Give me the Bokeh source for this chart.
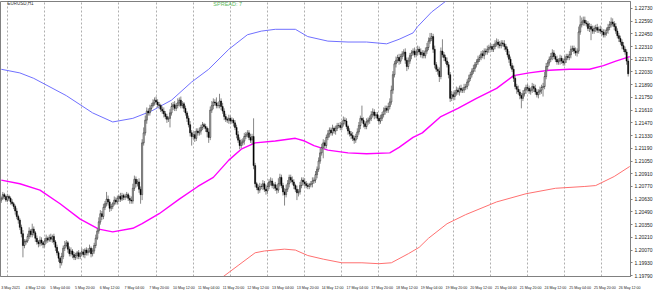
from bokeh.plotting import figure
from bokeh.models import Range1d, FixedTicker, PrintfTickFormatter, ColumnDataSource, Label
from bokeh.embed import file_html
from bokeh.resources import INLINE

# ---- data (bar 0 = 3 May 2021 20:00) ----
first_open = 1.2062
closes = [
    1.2064, 1.2068, 1.2066, 1.2062, 1.2066, 1.2064, 1.2060, 1.2058,
    1.2055, 1.2050, 1.2044, 1.2040, 1.2032, 1.2025, 1.2012, 1.2016,
    1.2017, 1.2022, 1.2028, 1.2024, 1.2030, 1.2026, 1.2020, 1.2016,
    1.2014, 1.2018, 1.2015, 1.2013, 1.2017, 1.2020, 1.2018, 1.2021,
    1.2019, 1.2022, 1.2016, 1.2010, 1.2004, 1.1998, 1.1993, 1.2000,
    1.2009, 1.2012, 1.2015, 1.2008, 1.2003, 1.2006, 1.2002, 1.1999,
    1.2001, 1.2004, 1.2000, 1.2003, 1.2005, 1.2002, 1.2007, 1.2004,
    1.2006, 1.2009, 1.2003, 1.2006, 1.2012, 1.2020, 1.2028, 1.2038,
    1.2047, 1.2044, 1.2054, 1.2058, 1.2063, 1.2060, 1.2053, 1.2055,
    1.2058, 1.2062, 1.2060, 1.2064, 1.2066, 1.2063, 1.2067, 1.2065,
    1.2066, 1.2068, 1.2064, 1.2062, 1.2061, 1.2075, 1.2085, 1.2080,
    1.2082, 1.2074, 1.2068, 1.2125, 1.2136, 1.2150, 1.2160, 1.2158,
    1.2163, 1.2166, 1.2169, 1.2172, 1.2170, 1.2167, 1.2166, 1.2162,
    1.2160, 1.2157, 1.2154, 1.2151, 1.2152, 1.2158, 1.2165, 1.2167,
    1.2163, 1.2166, 1.2169, 1.2172, 1.2166, 1.2168, 1.2163, 1.2158,
    1.2152, 1.2145, 1.2136, 1.2132, 1.2134, 1.2130, 1.2138, 1.2136,
    1.2138, 1.2142, 1.2145, 1.2143, 1.2141, 1.2137, 1.2131, 1.2161,
    1.2166, 1.2170, 1.2169, 1.2166, 1.2166, 1.2171, 1.2165, 1.2160,
    1.2154, 1.2151, 1.2150, 1.2152, 1.2149, 1.2150, 1.2147, 1.2142,
    1.2134, 1.2128, 1.2122, 1.2125, 1.2127, 1.2132, 1.2134, 1.2136,
    1.2131, 1.2128, 1.2132, 1.2100, 1.2080, 1.2076, 1.2073, 1.2077,
    1.2077, 1.2080, 1.2074, 1.2072, 1.2077, 1.2082, 1.2083, 1.2078,
    1.2079, 1.2075, 1.2073, 1.2080, 1.2087, 1.2078, 1.2071, 1.2068,
    1.2074, 1.2080, 1.2087, 1.2084, 1.2082, 1.2078, 1.2074, 1.2070,
    1.2071, 1.2078, 1.2084, 1.2082, 1.2080, 1.2078, 1.2077, 1.2079,
    1.2080, 1.2083, 1.2084, 1.2090, 1.2096, 1.2105, 1.2114, 1.2120,
    1.2125, 1.2122, 1.2131, 1.2135, 1.2139, 1.2136, 1.2141, 1.2138,
    1.2141, 1.2144, 1.2144, 1.2142, 1.2146, 1.2150, 1.2149, 1.2143,
    1.2138, 1.2135, 1.2133, 1.2130, 1.2128, 1.2132, 1.2137, 1.2144,
    1.2152, 1.2150, 1.2146, 1.2143, 1.2148, 1.2150, 1.2152, 1.2156,
    1.2159, 1.2155, 1.2156, 1.2152, 1.2149, 1.2152, 1.2156, 1.2160,
    1.2163, 1.2161, 1.2165, 1.2170, 1.2183, 1.2200, 1.2212, 1.2216,
    1.2219, 1.2215, 1.2220, 1.2223, 1.2225, 1.2216, 1.2209, 1.2215,
    1.2221, 1.2224, 1.2226, 1.2222, 1.2225, 1.2228, 1.2225, 1.2222,
    1.2224, 1.2221, 1.2226, 1.2230, 1.2237, 1.2240, 1.2242, 1.2228,
    1.2211, 1.2206, 1.2204, 1.2198, 1.2226, 1.2222, 1.2219, 1.2215,
    1.2211, 1.2200, 1.2174, 1.2178, 1.2176, 1.2180, 1.2183, 1.2181,
    1.2185, 1.2183, 1.2183, 1.2186, 1.2187, 1.2192, 1.2196, 1.2200,
    1.2204, 1.2207, 1.2211, 1.2214, 1.2217, 1.2219, 1.2223, 1.2221,
    1.2226, 1.2225, 1.2228, 1.2230, 1.2231, 1.2228, 1.2231, 1.2234,
    1.2236, 1.2233, 1.2232, 1.2235, 1.2234, 1.2231, 1.2228, 1.2222,
    1.2217, 1.2210, 1.2206, 1.2196, 1.2187, 1.2184, 1.2181, 1.2177,
    1.2174, 1.2179, 1.2183, 1.2186, 1.2185, 1.2182, 1.2183, 1.2187,
    1.2185, 1.2181, 1.2178, 1.2181, 1.2183, 1.2186, 1.2187, 1.2198,
    1.2209, 1.2213, 1.2217, 1.2220, 1.2224, 1.2220, 1.2217, 1.2214,
    1.2215, 1.2218, 1.2215, 1.2213, 1.2217, 1.2220, 1.2219, 1.2222,
    1.2228, 1.2229, 1.2226, 1.2224, 1.2226, 1.2247, 1.2255, 1.2258,
    1.2260, 1.2257, 1.2256, 1.2251, 1.2253, 1.2250, 1.2248, 1.2251,
    1.2252, 1.2249, 1.2250, 1.2248, 1.2247, 1.2244, 1.2246, 1.2249,
    1.2252, 1.2255, 1.2258, 1.2256, 1.2253, 1.2248, 1.2243, 1.2240,
    1.2236, 1.2232, 1.2228, 1.2225, 1.2215, 1.2201,
]
# wick lengths above / below the candle body, in pips
upper_wick = [
    2, 3, 2, 2, 3, 2, 2, 3, 2, 2,  3, 2, 2, 3, 4, 3, 2, 3, 4, 2,
    6, 3, 2, 3, 2, 4, 3, 2, 3, 4,  2, 3, 4, 2, 3, 2, 3, 2, 2, 4,
    3, 5, 3, 2, 3, 4, 2, 3, 3, 2,  3, 2, 4, 3, 2, 3, 3, 4, 2, 3,
    3, 4, 3, 5, 4, 3, 4, 3, 8, 4,  3, 3, 2, 4, 3, 3, 2, 4, 3, 2,
    3, 3, 2, 3, 4, 5, 4, 3, 3, 4,  3, 4, 6, 5, 4, 3, 4, 3, 4, 3,
    4, 3, 3, 2, 3, 4, 3, 3, 2, 4,  4, 3, 4, 3, 5, 3, 4, 3, 2, 3,
    2, 3, 4, 3, 3, 4, 3, 3, 4, 3,  3, 2, 3, 2, 4, 4, 5, 4, 3, 6,
    4, 8, 3, 4, 3, 3, 2, 4, 3, 3,  2, 3, 3, 4, 3, 4, 3, 4, 3, 3,
    3, 4, 3, 20, 3, 2, 3, 4, 3, 4, 3, 5, 4, 3, 4, 3, 2, 3, 4, 6,
    4, 3, 3, 4, 5, 4, 3, 3, 4, 3,  2, 4, 3, 4, 3, 3, 4, 3, 3, 2,
    3, 4, 3, 4, 3, 4, 5, 4, 4, 3,  3, 4, 3, 3, 4, 2, 3, 3, 3, 4,
    3, 4, 3, 3, 2, 3, 3, 4, 3, 3,  4, 4, 3, 14, 3, 3, 4, 3, 3, 4,
    4, 3, 3, 3, 3, 4, 3, 4, 3, 3,  4, 4, 5, 4, 3, 4, 3, 4, 3, 3,
    3, 4, 3, 4, 3, 3, 3, 4, 3, 4,  3, 4, 3, 3, 4, 5, 4, 6, 4, 3,
    4, 3, 3, 4, 4, 13, 3, 3, 4, 3, 3, 4, 3, 3, 4, 3, 3, 4, 3, 4,
    3, 3, 4, 3, 3, 4, 3, 3, 4, 3,  3, 4, 3, 3, 4, 3, 4, 3, 3, 4,
    4, 3, 4, 3, 3, 4, 3, 3, 4, 3,  3, 4, 3, 3, 4, 3, 3, 4, 3, 3,
    4, 3, 3, 4, 3, 4, 3, 3, 4, 3,  4, 5, 4, 3, 3, 4, 4, 3, 3, 4,
    3, 4, 3, 3, 4, 3, 3, 4, 4, 3,  3, 4, 3, 6, 10, 5, 4, 4, 3, 3,
    4, 3, 4, 3, 3, 4, 3, 4, 3, 3,  4, 3, 4, 4, 5, 4, 3, 4, 3, 3,
    3, 3, 4, 3, 3, 3,
]
lower_wick = [
    3, 2, 3, 2, 2, 3, 3, 2, 3, 4,  3, 4, 3, 4, 13, 3, 3, 2, 3, 3,
    3, 3, 4, 3, 4, 3, 3, 4, 3, 3,  3, 2, 3, 4, 3, 4, 3, 4, 6, 3,
    3, 3, 2, 4, 3, 3, 4, 3, 3, 4,  3, 3, 2, 3, 4, 3, 3, 2, 4, 3,
    3, 3, 2, 3, 3, 4, 3, 3, 3, 4,  4, 3, 3, 2, 3, 3, 4, 3, 2, 3,
    3, 2, 3, 4, 3, 3, 3, 4, 3, 4,  10, 6, 3, 3, 4, 3, 3, 3, 2, 3,
    3, 3, 4, 3, 3, 4, 3, 4, 3, 10, 3, 4, 3, 3, 3, 4, 3, 3, 4, 3,
    4, 3, 4, 10, 3, 4, 3, 3, 3, 4, 3, 3, 4, 6, 6, 3, 3, 4, 3, 3,
    3, 3, 4, 3, 4, 3, 3, 4, 3, 3,  4, 3, 4, 3, 4, 3, 3, 4, 3, 3,
    3, 3, 4, 4, 4, 3, 4, 3, 3, 4,  3, 4, 3, 3, 4, 3, 4, 3, 4, 3,
    3, 3, 4, 12, 3, 3, 4, 3, 3, 4, 3, 8, 4, 3, 3, 4, 3, 3, 3, 3,
    3, 4, 3, 3, 4, 3, 3, 3, 12, 4, 3, 3, 4, 3, 3, 3, 4, 3, 3, 3,
    3, 3, 4, 3, 4, 3, 4, 3, 4, 3,  3, 3, 4, 3, 4, 3, 3, 3, 4, 3,
    3, 4, 3, 3, 4, 3, 3, 3, 4, 3,  3, 3, 3, 4, 3, 4, 3, 4, 3, 3,
    3, 4, 5, 3, 3, 4, 3, 3, 3, 4,  3, 3, 4, 3, 3, 3, 3, 3, 3, 4,
    4, 3, 4, 6, 3, 3, 4, 3, 3, 4,  4, 3, 3, 4, 3, 3, 4, 3, 3, 3,
    3, 3, 4, 3, 3, 3, 4, 3, 3, 3,  3, 3, 4, 3, 3, 4, 3, 3, 3, 3,
    3, 4, 3, 3, 3, 4, 3, 3, 4, 3,  3, 4, 3, 5, 3, 4, 11, 3, 3, 4,
    3, 3, 4, 3, 4, 3, 3, 4, 3, 4,  10, 3, 3, 4, 3, 3, 4, 3, 3, 3,
    3, 4, 3, 3, 3, 4, 3, 3, 4, 3,  3, 3, 4, 3, 3, 3, 4, 3, 3, 3,
    4, 12, 3, 3, 4, 3, 3, 3, 4, 3, 3, 3, 4, 3, 3, 3, 4, 3, 3, 4,
    3, 4, 3, 3, 4, 3,
]

# moving average (magenta) and upper / lower bands, sampled at bar indices
ma_bar = [0, 12, 25, 38, 51, 63, 72, 85, 91, 102, 115, 127, 137, 147, 155, 164,
          177, 190, 196, 202, 211, 224, 236, 251, 257, 266, 272, 284, 295, 307,
          320, 331, 341, 354, 367, 380, 389, 397, 406]
ma_val = [1.2084, 1.2080, 1.2073, 1.2058, 1.2041, 1.2030, 1.2027, 1.2031, 1.2036,
          1.2047, 1.2063, 1.2077, 1.2087, 1.2106, 1.2118, 1.2125, 1.2127, 1.2130,
          1.2127, 1.2122, 1.2117, 1.2114, 1.2113, 1.2114, 1.2120, 1.2131, 1.2136,
          1.2154, 1.2163, 1.2174, 1.2185, 1.2199, 1.2202, 1.2205, 1.2206, 1.2206,
          1.2210, 1.2215, 1.2220]
upper_bar = [0, 12, 21, 42, 59, 72, 85, 97, 110, 123, 134, 147, 159, 168, 177,
             190, 198, 211, 224, 236, 249, 257, 266, 269, 278, 288, 300]
upper_val = [1.2206, 1.2202, 1.2196, 1.2177, 1.2158, 1.2148, 1.2152, 1.2160,
             1.2172, 1.2192, 1.2206, 1.2228, 1.2244, 1.2248, 1.2250, 1.2250,
             1.2242, 1.2237, 1.2236, 1.2236, 1.2234, 1.2239, 1.2246, 1.2253,
             1.2269, 1.2282, 1.2295]
lower_bar = [127, 142, 153, 164, 170, 183, 190, 198, 208, 220, 233, 244, 252,
             263, 270, 276, 288, 300, 320, 339, 358, 377, 384, 396, 406]
lower_val = [1.1950, 1.1976, 1.1990, 1.2004, 1.2006, 1.2008, 1.2007, 1.2001,
             1.1997, 1.1993, 1.1993, 1.1992, 1.1993, 1.2003, 1.2010, 1.2020,
             1.2036, 1.2046, 1.2060, 1.2069, 1.2075, 1.2077, 1.2078, 1.2088,
             1.2099]

# day separators (bar index of each midnight) and axis labels
day_starts = [4, 28, 52, 76, 100, 124, 148, 172, 196, 220, 244, 268, 292, 316,
              340, 364, 388]
time_labels = ["3 May 2021", "4 May 12:00", "5 May 04:00", "5 May 20:00",
               "6 May 12:00", "7 May 04:00", "7 May 20:00", "10 May 12:00",
               "11 May 04:00", "11 May 20:00", "12 May 12:00", "13 May 04:00",
               "13 May 20:00", "14 May 12:00", "17 May 04:00", "17 May 20:00",
               "18 May 12:00", "19 May 04:00", "19 May 20:00", "20 May 12:00",
               "21 May 04:00", "21 May 20:00", "24 May 12:00", "25 May 04:00",
               "25 May 20:00", "26 May 12:00"]
label_bars = [16 * k for k in range(len(time_labels))]
price_ticks = [1.19790, 1.19930, 1.20070, 1.20210, 1.20350, 1.20490, 1.20630,
               1.20770, 1.20910, 1.21050, 1.21190, 1.21330, 1.21470, 1.21610,
               1.21750, 1.21890, 1.22030, 1.22170, 1.22310, 1.22450, 1.22590,
               1.22730]

# ---- build candle table ----
n = len(closes)
opens = [first_open] + closes[:-1]
idx = list(range(n))
tops = [max(o, c) for o, c in zip(opens, closes)]
bots = [min(o, c) for o, c in zip(opens, closes)]
highs = [t + u * 0.0001 for t, u in zip(tops, upper_wick[:n])]
lows = [b - d * 0.0001 for b, d in zip(bots, lower_wick[:n])]
fills = ["white" if c >= o else "black" for o, c in zip(opens, closes)]
src = ColumnDataSource(dict(x=idx, top=tops, bottom=bots, high=highs, low=lows, fill=fills))

FONT = "Liberation Sans"

p = figure(width=655, height=292, output_backend="svg", toolbar_location=None,
           x_range=Range1d(-0.5, 406.5), y_range=Range1d(1.19779, 1.22806),
           y_axis_location="right", min_border_left=0, min_border_top=1,
           min_border_right=19, min_border_bottom=11)
p.background_fill_color = "white"
p.border_fill_color = "white"
p.outline_line_color = "#808080"
p.outline_line_width = 1

# grids: only dotted day separators
p.xgrid.ticker = FixedTicker(ticks=day_starts)
p.xgrid.grid_line_color = "#9a9a9a"
p.xgrid.grid_line_dash = "2 2"
p.xgrid.grid_line_width = 0.8
p.ygrid.grid_line_color = None

# indicator lines
p.line(upper_bar, upper_val, line_color="#7070FF", line_width=1)
p.line(lower_bar, lower_val, line_color="#FF7070", line_width=1)
p.line(ma_bar, ma_val, line_color="#FF00FF", line_width=1.4)

# candles
p.segment(x0="x", y0="low", x1="x", y1="high", source=src, line_color="#888888", line_width=1)
p.vbar(x="x", width=0.7, top="top", bottom="bottom", source=src,
       fill_color="fill", line_color="black", line_width=0.5)

# axes
ya = p.yaxis[0]
ya.ticker = FixedTicker(ticks=price_ticks)
ya.formatter = PrintfTickFormatter(format="%.5f")
ya.major_label_text_font = FONT
ya.major_label_text_font_size = "5px"
ya.major_label_text_color = "#222222"
ya.major_label_standoff = 2
ya.major_tick_out = 2
ya.major_tick_in = 0
ya.minor_tick_line_color = None
ya.axis_line_color = "#808080"
ya.major_tick_line_color = "#808080"

xa = p.xaxis[0]
shift = 6
xa.ticker = FixedTicker(ticks=[b + shift for b in label_bars])
xa.major_label_overrides = {b + shift: t for b, t in zip(label_bars, time_labels)}
xa.major_label_text_font = FONT
xa.major_label_text_font_size = "3.6px"
xa.major_label_text_color = "#222222"
xa.major_label_standoff = 3
xa.major_tick_line_color = None
xa.minor_tick_line_color = None
xa.axis_line_color = "#808080"

# chart captions
p.add_layout(Label(x=4, y=1.22785, text="EURUSD,H1", text_font=FONT, text_font_size="4.5px",
                   text_color="#333333", text_baseline="middle"))
p.add_layout(Label(x=137, y=1.22775, text="SPREAD: 7", text_font=FONT, text_font_size="5.5px",
                   text_color="#5DBB5D", text_baseline="middle"))

open("out.html", "w").write(file_html(p, INLINE))
